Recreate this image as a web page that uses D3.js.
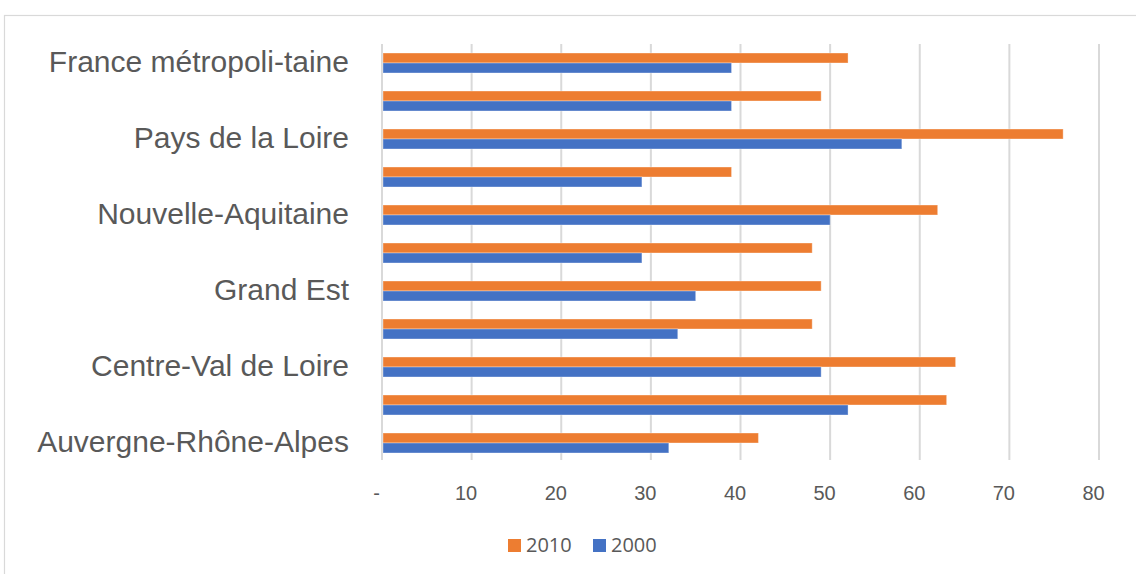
<!DOCTYPE html>
<html>
<head>
<meta charset="utf-8">
<script src="https://cdn.jsdelivr.net/npm/d3@7"></script>
<style>
  body { margin: 0; background: #fff; }
  svg { display: block; font-family: "Open Sans", sans-serif; }
  .axis text { fill: #595959; }
  .axis path { display: none; }
</style>
</head>
<body>
<svg width="1136" height="574"></svg>
<script>
// categories top to bottom (every other label is hidden, like in the original)
var regions = ["France métropoli-taine", "Provence-Alpes-Côte d'Azur", "Pays de la Loire", "Occitanie",
               "Nouvelle-Aquitaine", "Normandie", "Grand Est", "Corse", "Centre-Val de Loire",
               "Bretagne", "Auvergne-Rhône-Alpes"];
var shownLabels = ["France métropoli-taine", "Pays de la Loire", "Nouvelle-Aquitaine", "Grand Est",
                   "Centre-Val de Loire", "Auvergne-Rhône-Alpes"];
var years = ["2010", "2000"];
var values2010 = [52, 49, 76, 39, 62, 48, 49, 48, 64, 63, 42];
var values2000 = [39, 39, 58, 29, 50, 29, 35, 33, 49, 52, 32];
var xTicks = [0, 10, 20, 30, 40, 50, 60, 70, 80];

var colors = {"2010": "#ED7D31", "2000": "#4472C4"};

var svg = d3.select("svg");
var margin = {top: 44, left: 382, right: 37, bottom: 112},
    width = +svg.attr("width") - margin.left - margin.right,
    height = +svg.attr("height") - margin.top - margin.bottom;

// chart frame
svg.append("rect")
    .attr("x", 4.5).attr("y", 15.5)
    .attr("width", 1300).attr("height", 700)
    .attr("fill", "none")
    .attr("stroke", "#d9d9d9")
    .attr("stroke-width", 1.2);

var rows = regions.map(function(r, i) {
  return {region: r, "2010": values2010[i], "2000": values2000[i]};
});

var x = d3.scaleLinear().domain([0, 80]).range([0, width]);
var y = d3.scaleBand().domain(regions).range([0, height]).paddingInner(0.474).paddingOuter(0.237);
var y1 = d3.scaleBand().domain(years).range([0, y.bandwidth()]);

var g = svg.append("g")
    .attr("transform", "translate(" + margin.left + "," + margin.top + ")");

// vertical gridlines
g.selectAll(".grid")
    .data(xTicks)
  .enter().append("line")
    .attr("class", "grid")
    .attr("x1", function(d) { return x(d); })
    .attr("x2", function(d) { return x(d); })
    .attr("y1", 0)
    .attr("y2", height - 2)
    .attr("stroke", "#d9d9d9")
    .attr("stroke-width", 2);

var groups = g.selectAll(".region")
    .data(rows)
  .enter().append("g")
    .attr("class", "region")
    .attr("transform", function(d) { return "translate(0," + y(d.region) + ")"; });

groups.selectAll("rect")
    .data(function(d) { return years.map(function(k) { return {key: k, value: d[k]}; }); })
  .enter().append("rect")
    .attr("x", x(0) + 1)
    .attr("y", function(d) { return y1(d.key); })
    .attr("height", y1.bandwidth())
    .attr("width", function(d) { return x(d.value) - x(0) - 1; })
    .attr("fill", function(d) { return colors[d.key]; })
    .attr("stroke", "#fff")
    .attr("stroke-opacity", 0.35)
    .attr("stroke-width", 1);

// category axis
g.append("g")
    .attr("class", "axis y-axis")
    .call(d3.axisLeft(y).tickSize(0).tickPadding(33)
      .tickFormat(function(d) { return shownLabels.indexOf(d) >= 0 ? d : ""; }))
    .selectAll("text")
    .style("font-size", "30px")
    .attr("dy", "0.3em");

// value axis
g.append("g")
    .attr("class", "axis x-axis")
    .attr("transform", "translate(0," + height + ")")
    .call(d3.axisBottom(x).tickValues(xTicks).tickSize(0).tickPadding(24)
      .tickFormat(function(d) { return d === 0 ? "-" : d; }))
    .selectAll("text")
    .style("font-size", "20px")
    .attr("dx", "-6");

// legend
var legend = svg.append("g").attr("transform", "translate(508,539)");
var items = legend.selectAll(".item")
    .data(years)
  .enter().append("g")
    .attr("class", "item")
    .attr("transform", function(d, i) { return "translate(" + (i * 85) + ",0)"; });
items.append("rect")
    .attr("width", 13).attr("height", 13)
    .attr("fill", function(d) { return colors[d]; });
items.append("text")
    .attr("x", 18).attr("y", 13)
    .attr("fill", "#595959")
    .style("font-size", "20px")
    .text(function(d) { return d; });
</script>
</body>
</html>
